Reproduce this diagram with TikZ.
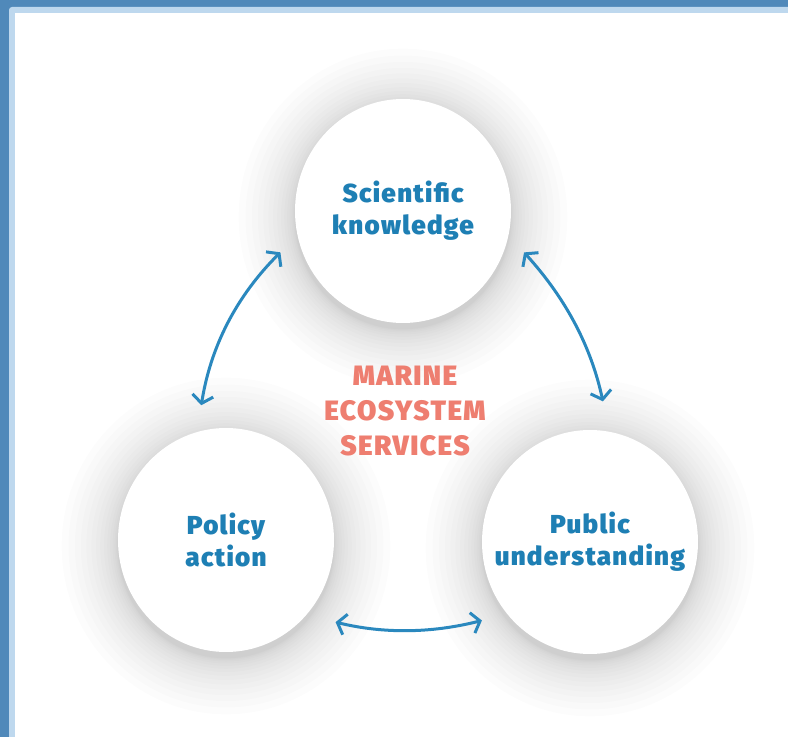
\documentclass[tikz,border=0pt]{standalone}
\usepackage{fontspec}
\setmainfont{Fira Sans}
\newfontfamily\heavy{Fira Sans Black}[LetterSpace = 5]
\usetikzlibrary{arrows.meta, shapes.geometric, backgrounds}

\definecolor{frameblue}{RGB}{80,137,186}
\definecolor{framelight}{RGB}{190,216,238}
\definecolor{textblue}{RGB}{30,127,180}
\definecolor{arrowblue}{RGB}{42,136,190}
\definecolor{salmon}{RGB}{238,126,112}

\begin{document}
\begin{tikzpicture}[x = 1pt, y = 1pt, > = {Straight Barb[length = 8pt, width = 21pt]},
	bubble/.style = {ellipse, fill = white, minimum width = 216pt, minimum height = 224pt, inner sep = -30pt, align = center, text = textblue, font = \heavy\fontsize{26}{32}\selectfont},
	link/.style = {<->, arrowblue, line width = 3pt}]
	
	\useasboundingbox (0, 0) rectangle (788, 737);
	
	% Three bubbles w title in the middle
	
	\node [bubble] (sci) at (403, 526) {Scientific\\knowledge};
	\node [bubble] (pol) at (226, 197) {Policy\\action};
	\node [bubble] (pub) at (590, 195) {Public\\understanding};
	
	\node [align = center, text = salmon, font = \heavy\fontsize{28}{35}\selectfont] (title) at (405, 326) {MARINE\\ECOSYSTEM\\SERVICES};
	
	% Double arrows between bubbles
	
	\draw [link, shorten < = 24pt, shorten > = 27pt] (sci.193) to [bend right = 18] (pol.105);
	\draw [link, shorten < = 23pt, shorten > = 31pt] (sci.347) to [bend left = 15] (pub.80);
	\draw [link, shorten < = 30pt, shorten > = 26pt] (pol.317) to [bend right = 14] (pub.221);
	
	% Frame and soft shadows
	
	\begin{scope}[on background layer]
		\fill [frameblue] (0, 0) rectangle (788, 737);
		\fill [framelight, rounded corners = 3pt] (9, -10) rectangle (800, 730);
		\fill [white] (15, -10) rectangle (800, 724);
		
		\foreach \n in {sci, pol, pub}
			\foreach \i in {1, ..., 16}
				\fill [black, opacity = 0.012] ([yshift = -6pt] \n.center) ellipse ({108 + 0.22*\i*\i} and {112 + 0.22*\i*\i});
	\end{scope}
	
\end{tikzpicture}
\end{document}
